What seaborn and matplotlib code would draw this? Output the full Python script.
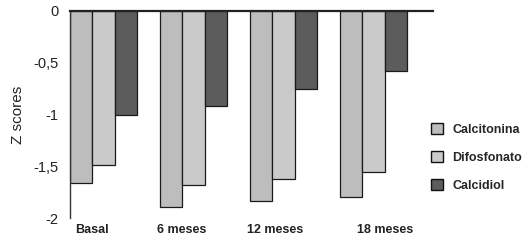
import pandas as pd
import matplotlib
matplotlib.use("Agg")
import matplotlib.pyplot as plt
import seaborn as sns

periods = ["Basal", "6 meses", "12 meses", "18 meses"]
treatments = ["Calcitonina", "Difosfonato", "Calcidiol"]
calcitonina = [-1.66, -1.89, -1.84, -1.80]
difosfonato = [-1.49, -1.68, -1.62, -1.56]
calcidiol = [-1.00, -0.92, -0.75, -0.58]
yticks = [0, -0.5, -1, -1.5, -2]
ytick_labels = ["0", "-0,5", "-1", "-1,5", "-2"]

colors = ["#bdbdbd", "#cacaca", "#5c5c5c"]
# the scanned labels sit a little off the group centres
label_shift = [-0.13, -0.13, -0.09, 0.13]

rows = []
for name, vals in zip(treatments, [calcitonina, difosfonato, calcidiol]):
    for p, v in zip(periods, vals):
        rows.append({"Periodo": p, "Tratamiento": name, "Z": v})
df = pd.DataFrame(rows)

sns.set_style("white")
plt.rcParams["font.family"] = ["Liberation Sans", "DejaVu Sans"]

fig = plt.figure(figsize=(5.25, 2.46), dpi=100)
ax = fig.add_axes([0.1333, 0.1138, 0.6914, 0.8415])

sns.barplot(data=df, x="Periodo", y="Z", hue="Tratamiento", order=periods,
            hue_order=treatments, palette=colors, width=0.75,
            edgecolor="#1a1a1a", linewidth=0.9, saturation=1, ax=ax)

ax.set_ylim(-2, 0)
ax.set_xlim(-0.375, 3.66)
ax.set_yticks(yticks)
ax.set_yticklabels(ytick_labels, fontsize=10.5, color="#222222")
ax.set_ylabel("Z scores", fontsize=11, color="#222222", labelpad=6)
ax.set_xlabel("")
ax.set_xticks([i + s for i, s in enumerate(label_shift)])
ax.set_xticklabels(periods, fontsize=9, fontweight="bold", color="#222222")
ax.tick_params(axis="x", length=0, pad=4)
ax.tick_params(axis="y", length=0, pad=8)

for s in ["right", "bottom"]:
    ax.spines[s].set_visible(False)
ax.spines["top"].set_linewidth(1.6)
ax.spines["top"].set_color("#222222")
ax.spines["left"].set_linewidth(1.0)
ax.spines["left"].set_color("#333333")

handles, labels = ax.get_legend_handles_labels()
ax.legend_.remove()
leg = fig.legend(handles, labels, loc="upper left", bbox_to_anchor=(0.80, 0.545),
                 frameon=False, prop={"size": 9, "weight": "bold"},
                 handlelength=0.9, handleheight=0.9, handletextpad=0.8,
                 labelspacing=1.25)
for h in leg.legend_handles:
    h.set_edgecolor("#111111")
    h.set_linewidth(1.0)

fig.savefig("out.png", dpi=100)
